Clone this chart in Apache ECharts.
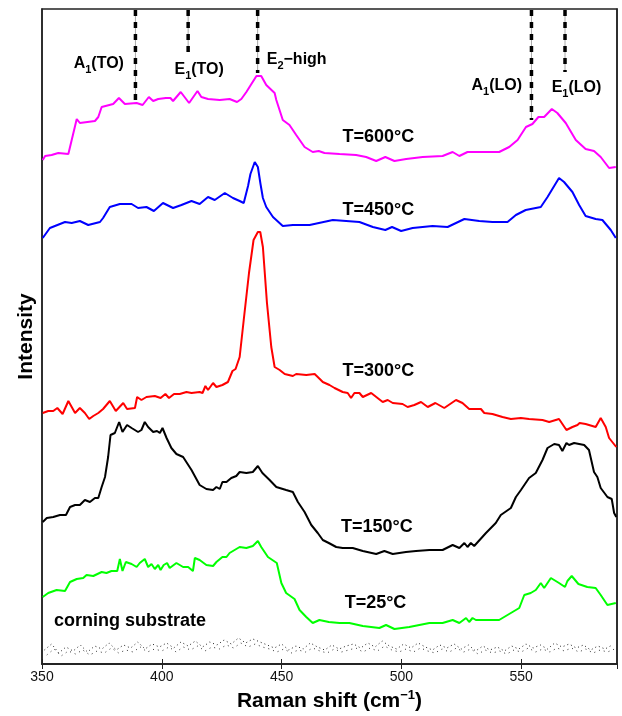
<!DOCTYPE html>
<html><head><meta charset="utf-8">
<script src="https://cdn.jsdelivr.net/npm/echarts@6/dist/echarts.min.js"></script>
<style>html,body{margin:0;padding:0;background:#fff}#c{width:622px;height:716px}</style>
</head><body><div id="c"></div>
<script>
// x: Raman shift (cm^-1); y: intensity (arbitrary units, stacked with offsets)
const t600 = [[350.3,504],[351.3,508],[354,509],[356.8,511],[361,510],[361.4,511],[364.5,545],[365.8,541],[372.1,543],[373.5,547],[374.9,557],[379.7,560],[382.1,566],[384.6,560],[389.5,561],[392,559],[394.6,567],[396.4,563],[398.5,565],[401.7,566],[403.6,566],[404.7,563],[407.9,572],[411.4,561],[414.9,573],[416.5,567],[419.3,565],[424.2,564],[428.3,565],[431.4,562],[433.2,565],[435.3,572],[439.5,588],[441.5,588],[443.6,579],[447.1,571],[447.8,564],[450.5,544],[453.3,539],[456.1,529],[459.6,517],[463,512],[465.5,513],[467.9,511],[474.2,510],[481.1,509],[485.3,507],[489.5,503],[493.3,507],[497.1,503],[502,505],[508.9,507],[517.2,508],[521.4,512],[524.2,508],[527.6,512],[532.5,512],[540.8,512],[545,517],[548.5,524],[552,537],[554.7,540],[557.2,547],[559.6,547],[562.8,555],[565.1,551],[568.6,541],[572.8,524],[576.9,515],[580.4,513],[583.2,507],[586.7,496],[589.5,497]];
const t450 = [[350.3,426],[353.3,436],[355.4,438],[359.6,442],[362.4,441],[365.8,443],[369.3,439],[374.2,442],[375.5,446],[378.3,457],[382.5,460],[387.4,460],[390.1,456],[393.6,457],[396.7,453],[400.5,461],[404.7,456],[408.2,459],[412.4,463],[415.8,460],[419.3,467],[422.1,464],[426.3,471],[429.7,466],[432.5,463],[434.2,461],[436,478],[437,490],[438.8,502],[440.1,497],[441.2,480],[442.2,466],[443.6,457],[446.4,447],[450.5,438],[454.7,439],[461.7,439],[471.4,444],[482.5,442],[488.1,437],[493.3,434],[496.1,437],[499.9,433],[504.7,436],[513,438],[519.3,437],[526.3,445],[532.5,443],[538,442],[544.3,442],[547.8,449],[551.9,454],[558.2,457],[561,467],[565.8,486],[567.9,482],[571.4,472],[574.2,459],[576.9,448],[581.1,445],[583.9,444],[587.4,434],[589.5,426]];
const t300 = [[350.3,251],[352.6,253],[354.7,253],[356.4,256],[358.6,250],[361,263],[363.8,251],[365.8,256],[367.9,251],[369.7,245],[371.4,248],[373.5,251],[375.5,255],[378.3,263],[380.8,253],[383.9,261],[385.5,255],[388.8,256],[389.7,267],[391.5,264],[393.6,267],[397.1,268],[399.5,266],[401.5,270],[403,266],[405.1,270],[407.5,270],[410.3,272],[412.4,271],[415.8,272],[417,271],[418.2,278],[419.3,274],[421.4,281],[422.8,277],[425.3,279],[427.6,282],[429.5,293],[430.8,295],[432.5,307],[434.2,344],[436.4,391],[438.3,424],[440.1,432],[441.1,432],[442.2,417],[443.9,361],[445.7,317],[447.1,297],[449.2,294],[451.3,290],[454.7,288],[456.1,290],[460.3,289],[463.8,290],[465.1,287],[467.2,282],[470,279],[472.1,276],[475.5,272],[477.6,271],[479,266],[480.4,271],[482.5,271],[483.9,267],[487.4,271],[492.2,262],[494.3,264],[496.4,261],[500.5,260],[502.6,257],[505.4,259],[508.2,262],[511,257],[514.2,261],[517.9,256],[522.8,264],[525.5,261],[528.3,255],[533.2,255],[534.6,251],[538,250],[542.2,247],[545.7,245],[549.9,246],[553.3,245],[558.9,244],[561.7,242],[565.8,245],[568.9,234],[571.4,237],[573.5,239],[574.4,241],[576.9,240],[581.1,237],[583.2,246],[585.3,237],[586.7,226],[589.7,217]];
const t150 = [[350.3,142],[352,146],[354.7,147],[357.5,149],[360,149],[361.7,157],[363.8,159],[365.8,159],[367.9,164],[370,162],[372.1,166],[373.5,166],[374.9,177],[376.3,187],[377.6,207],[378.6,229],[380.4,231],[382.2,242],[383.6,232],[385.5,239],[387.4,236],[390.1,232],[391.5,234],[392.9,242],[394.3,237],[396.4,232],[398,233],[399.2,231],[400.3,236],[402,226],[404,216],[406.1,210],[408.9,207],[412.4,194],[415.8,179],[418.6,175],[421.4,174],[422.8,177],[424.2,175],[425.3,182],[427,182],[429,186],[431.1,188],[432.5,192],[435.3,191],[438,192],[440.1,198],[442,191],[445,184],[447.8,177],[451.9,174],[454.7,172],[456.8,162],[459.6,152],[462.4,139],[465.1,131],[467.2,124],[469.7,121],[472.8,117],[475.5,116],[479.7,116],[483.9,113],[489.5,110],[492.9,113],[496.4,110],[501.9,112],[506.1,113],[511.7,114],[517.2,114],[521.4,119],[524.2,116],[526.3,121],[527.6,117],[529,121],[530.4,118],[535.3,131],[539.4,141],[541.5,149],[545.7,156],[547.8,167],[549.9,174],[553.3,186],[556.1,191],[558.9,204],[561,216],[563.8,220],[565.8,219],[567.2,213],[568.9,221],[570,219],[572.1,221],[576.3,219],[578.3,214],[580.4,192],[581.8,187],[583.2,176],[586,167],[587.8,165],[588.8,151],[589.7,147]];
const t25 = [[350.3,67],[352.6,71],[356.1,74],[359.6,73],[361.7,82],[364.5,85],[367.2,86],[368.6,89],[371.4,88],[374.9,92],[376.9,91],[379,93],[381.4,93],[382.5,105],[383.6,93],[385,102],[387.4,100],[389.5,97],[390.8,101],[392.9,105],[394.3,97],[395.7,100],[397.1,95],[398.5,99],[399.5,94],[400.8,99],[402.2,101],[403.3,96],[406.1,101],[408.9,97],[411,97],[413,93],[413.8,106],[415.8,104],[418.6,99],[421.4,98],[422.8,102],[425.3,107],[427,107],[428.3,111],[431.1,115],[432.5,117],[435.3,116],[438,118],[440.1,123],[441.5,117],[444.3,107],[448,101],[449.9,81],[451.9,71],[455.4,65],[457.5,54],[460.3,47],[463,41],[465.8,44],[469.7,42],[474.2,41],[478.3,41],[483.9,38],[490.8,36],[493.6,39],[497.1,35],[503.3,37],[511.7,41],[517.2,41],[521.4,44],[524.2,41],[527,46],[528.3,42],[529.7,46],[531.1,44],[540.8,44],[545.7,51],[549.2,56],[551.3,69],[554,71],[556.1,74],[558.2,81],[559.6,76],[562.4,86],[565.8,81],[568.3,77],[569.3,83],[571.1,88],[573.9,80],[577.6,77],[581.1,76],[583.2,69],[586,59],[589.5,61]];
const substrate = [[351,14],[354,20],[357,11],[360,17],[363,13],[366,19],[369,12],[372,18],[375,15],[378,21],[381,14],[384,19],[387,16],[390,22],[393,15],[396,20],[399,17],[402,21],[405,16],[408,22],[411,18],[414,23],[417,17],[420,22],[423,19],[426,24],[429,20],[432,26],[435,21],[438,25],[441,22],[444,19],[447,16],[450,20],[453,14],[456,18],[459,15],[462,21],[465,17],[468,14],[471,19],[474,15],[477,18],[480,20],[483,16],[486,21],[489,17],[492,23],[495,18],[498,15],[501,20],[504,16],[507,21],[510,17],[513,14],[516,19],[519,16],[522,20],[525,15],[528,19],[531,13],[534,18],[537,14],[540,17],[543,13],[546,18],[549,15],[552,20],[555,16],[558,19],[561,15],[564,21],[567,17],[570,20],[573,16],[576,19],[579,14],[582,18],[585,15],[588,19]];
const substrate2 = [[352,9],[355,15],[358,8],[361,13],[364,10],[367,14],[370,9],[373,13],[376,11],[379,16],[382,11],[385,14],[388,12],[391,17],[394,12],[397,15],[400,13],[403,17],[406,12],[409,17],[412,14],[415,18],[418,13],[421,17],[424,15],[427,19],[430,16],[433,21],[436,17],[439,20],[442,17],[445,15],[448,12],[451,15],[454,11],[457,14],[460,12],[463,16],[466,13],[469,11],[472,15],[475,12],[478,14],[481,16],[484,12],[487,16],[490,13],[493,18],[496,14],[499,12],[502,15],[505,12],[508,16],[511,13],[514,11],[517,15],[520,12],[523,16],[526,12],[529,15],[532,10],[535,14],[538,11],[541,13],[544,10],[547,14],[550,12],[553,16],[556,12],[559,15],[562,12],[565,16],[568,13],[571,16],[574,12],[577,15],[580,11],[583,14],[586,12],[589,15]];
// Phonon mode markers (cm^-1) and where their dashed lines end
const modeX = [389, 411, 440, 554.3, 568.3];
const modeLineEnd = [564, 612, 591, 544, 592];
const modeLineTop = 654;
// Annotations
const annText = ['{b|A}{sub|1}{b|(TO)}','{b|E}{sub|1}{b|(TO)}','{b|E}{sub|2}{b|−high}','{b|A}{sub|1}{b|(LO)}','{b|E}{sub|1}{b|(LO)}','{t|T=600°C}','{t|T=450°C}','{t|T=300°C}','{t|T=150°C}','{t|T=25°C}','{t|corning substrate}'];
const annX = [373.7, 415.6, 456.3, 539.8, 573.1, 490.4, 490.4, 490.4, 489.8, 489.2, 386.7];
const annY = [600, 594, 604, 578, 576, 527, 454, 293, 137, 61, 43];

const curves = [
  {name:'T=600°C', data:t600, color:'#ff00ff'},
  {name:'T=450°C', data:t450, color:'#0000ff'},
  {name:'T=300°C', data:t300, color:'#ff0000'},
  {name:'T=150°C', data:t150, color:'#000000'},
  {name:'T=25°C', data:t25, color:'#00ff00'}
];
const FONT = 'Liberation Sans, Arial, Helvetica, sans-serif';
const series = [];
series.push({type:'line', data:substrate, showSymbol:false, silent:true, lineStyle:{color:'#222', width:1, type:[1,3]}, z:1});
series.push({type:'line', data:substrate2, showSymbol:false, silent:true, lineStyle:{color:'#333', width:1, type:[1,4]}, z:1});
curves.forEach(c => series.push({type:'line', name:c.name, data:c.data, showSymbol:false, silent:true, lineStyle:{color:c.color, width:2}, z:3}));
modeX.forEach((x,i) => {
  series.push({type:'line', data:[[x,modeLineTop],[x,modeLineEnd[i]]], showSymbol:false, silent:true, lineStyle:{color:'#aaa', width:1}, z:2});
  series.push({type:'line', data:[[x,modeLineTop],[x,modeLineEnd[i]]], showSymbol:false, silent:true, lineStyle:{color:'#000', width:3.5, type:[6,6]}, z:2});
});
const base = {fontFamily:FONT, fontWeight:'bold', color:'#000', textBorderWidth:0, textBorderColor:'transparent', textShadowBlur:0};
const rich = {
  b:Object.assign({}, base, {fontSize:16, lineHeight:20}),
  sub:Object.assign({}, base, {fontSize:11, lineHeight:12, padding:[11,0,0,0]}),
  t:Object.assign({}, base, {fontSize:18, lineHeight:22})
};
series.push({type:'scatter', symbolSize:0, silent:true, z:5, itemStyle:{color:'#000', opacity:1},
  data: annText.map((t,i)=>({value:[annX[i],annY[i]], label:{show:true, position:'inside', color:'#000', textBorderWidth:0, textBorderColor:'transparent', formatter:t, rich:rich}}))
});

const chart = echarts.init(document.getElementById('c'), null, {renderer:'canvas'});
chart.setOption({
  animation:false,
  backgroundColor:'#fff',
  grid:{left:42, right:5, top:9, bottom:52, show:true, borderColor:'#222', borderWidth:1.5, containLabel:false, outerBoundsMode:'none'},
  xAxis:[{type:'value', min:350, max:590, interval:50, position:'bottom',
    axisLine:{show:true, lineStyle:{color:'#222', width:1.5}},
    axisTick:{show:true, inside:true, length:5, lineStyle:{color:'#222', width:1}},
    axisLabel:{color:'#111', fontSize:14, fontFamily:FONT, margin:6, showMaxLabel:false},
    splitLine:{show:false},
    name:'{b|Raman shift (cm}{sup|−1}{b|)}', nameLocation:'middle', nameGap:24,
    nameTextStyle:{rich:{b:{fontFamily:FONT, fontWeight:'bold', fontSize:21, color:'#000', lineHeight:26}, sup:{fontFamily:FONT, fontWeight:'bold', fontSize:13, color:'#000', lineHeight:14, padding:[0,0,12,0]}}}
  },{type:'value', min:350, max:590, interval:50, position:'top',
    axisLine:{show:true, lineStyle:{color:'#222', width:1.5}},
    axisTick:{show:true, inside:true, length:5, lineStyle:{color:'#222', width:1}},
    axisLabel:{show:false}, splitLine:{show:false}
  }],
  yAxis:[{type:'value', min:0, max:655,
    axisLine:{show:true, lineStyle:{color:'#222', width:1.5}},
    axisTick:{show:false}, axisLabel:{show:false}, splitLine:{show:false},
    name:'Intensity', nameLocation:'middle', nameRotate:90, nameGap:5,
    nameTextStyle:{fontFamily:FONT, fontWeight:'bold', fontSize:21, color:'#000'}
  },{type:'value', min:0, max:655, position:'right',
    axisLine:{show:true, lineStyle:{color:'#222', width:1.5}},
    axisTick:{show:false}, axisLabel:{show:false}, splitLine:{show:false}
  }],
  series: series
});
</script></body></html>
